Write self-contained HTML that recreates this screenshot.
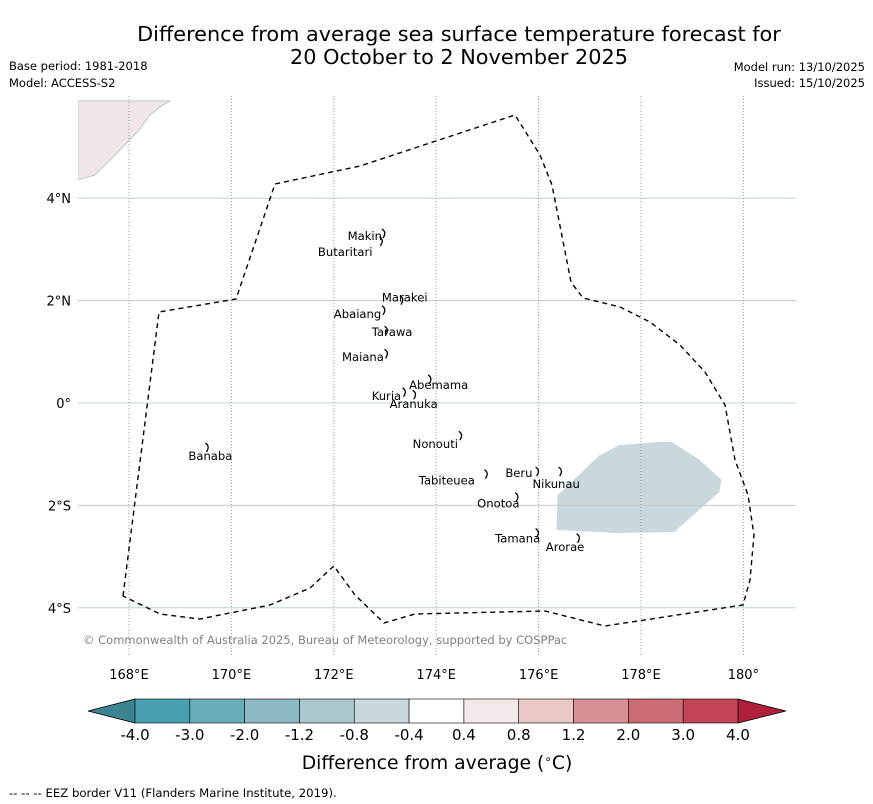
<!DOCTYPE html>
<html><head><meta charset="utf-8"><style>
body{margin:0;background:#fff;}
svg{display:block;font-family:"DejaVu Sans","Liberation Sans",sans-serif;}
</style></head><body>
<svg id="chart" width="873" height="804" viewBox="0 0 873 804" xmlns="http://www.w3.org/2000/svg">
<text x="459" y="41" font-size="20.8" text-anchor="middle">Difference from average sea surface temperature forecast for</text>
<text x="459" y="64" font-size="20.8" text-anchor="middle">20 October to 2 November 2025</text>
<text x="9" y="70" font-size="11.5">Base period: 1981-2018</text>
<text x="9" y="87" font-size="11.5">Model: ACCESS-S2</text>
<text x="865" y="71" font-size="11.5" text-anchor="end">Model run: 13/10/2025</text>
<text x="865" y="87" font-size="11.5" text-anchor="end">Issued: 15/10/2025</text>
<g id="map"></g>
<g id="cbar"></g>
<text x="437" y="769" font-size="18.8" text-anchor="middle">Difference from average (<tspan font-size="12" dy="-6">∘</tspan><tspan dy="6">C)</tspan></text>
<text x="9" y="797" font-size="11.7">--  --  -- EEZ border V11 (Flanders Marine Institute, 2019).</text>
</svg>
<script>
const NS="http://www.w3.org/2000/svg";
const lonTicks=[168,170,172,174,176,178,180];
const lonTickLabels=["168°E","170°E","172°E","174°E","176°E","178°E","180°"];
const latTicks=[4,2,0,-2,-4];
const latTickLabels=["4°N","2°N","0°","2°S","4°S"];
const eezLon=[167.883,168.586,170.09,170.852,172.512,175.539,176.027,176.262,176.633,176.867,177.59,178.176,178.762,179.25,179.64,179.836,180.09,180.207,180.129,179.992,177.297,176.125,173.586,172.98,172.414,172.0,171.535,170.754,169.387,168.605,167.883];
const eezLat=[-3.77,1.777,2.031,4.277,4.629,5.625,4.844,4.258,2.363,2.051,1.875,1.582,1.133,0.605,-0.039,-1.113,-1.797,-2.578,-3.457,-3.945,-4.355,-4.063,-4.121,-4.297,-3.75,-3.184,-3.613,-3.945,-4.219,-4.121,-3.77];
const blobLon=[176.37,177.19,177.58,178.36,178.6,179.14,179.57,179.53,178.65,177.54,176.35];
const blobLat=[-1.8,-1.02,-0.82,-0.76,-0.76,-1.11,-1.5,-1.74,-2.52,-2.54,-2.48];
const landLon=[167.0,168.8,168.6,168.4,168.2,167.72,167.33,167.0];
const landLat=[5.9,5.9,5.78,5.62,5.33,4.84,4.45,4.36];
const islandNames=["Makin","Butaritari","Marakei","Abaiang","Tarawa","Maiana","Abemama","Kuria","Aranuka","Nonouti","Banaba","Tabiteuea","Beru","Nikunau","Onotoa","Tamana","Arorae"];
const islandLon=[173.0,172.95,173.35,173.0,173.05,173.05,173.9,173.4,173.6,174.5,169.55,175.0,176.0,176.45,175.6,176.0,176.8];
const islandLat=[3.3,3.15,2.0,1.8,1.4,0.95,0.45,0.2,0.15,-0.65,-0.88,-1.4,-1.35,-1.35,-1.85,-2.55,-2.65];
const labelLon=[172.27,171.69,172.94,172.0,172.74,172.16,173.47,172.74,173.09,173.54,169.16,173.66,175.35,175.88,174.8,175.15,176.14];
const labelLat=[3.18,2.87,1.98,1.66,1.31,0.82,0.27,0.06,-0.1,-0.88,-1.11,-1.59,-1.45,-1.66,-2.04,-2.72,-2.89];
const cbarBounds=["-4.0","-3.0","-2.0","-1.2","-0.8","-0.4","0.4","0.8","1.2","2.0","3.0","4.0"];
const cbarColors=["#48a0b0","#67adba","#8bbac5","#a9c7cc","#c9d8dc","#ffffff","#f2e8e8","#e9c8c5","#d98f96","#cd6b75","#c24455"];
const cbarUnder="#3a8591", cbarOver="#b01f3c";

const X=lon=>129+(lon-168)*51.2;
const Y=lat=>403-lat*51.2;
function mk(tag,attrs,parent){const e=document.createElementNS(NS,tag);for(const k in attrs)e.setAttribute(k,attrs[k]);parent.appendChild(e);return e;}
const map=document.getElementById('map');
const clip=mk('clipPath',{id:'mc'},map);mk('rect',{x:78,y:96,width:718,height:560},clip);
const inner=mk('g',{'clip-path':'url(#mc)'},map);
function poly(lons,lats){return lons.map((l,i)=>X(l).toFixed(1)+','+Y(lats[i]).toFixed(1)).join(' ');}
let e=mk('polygon',{points:poly(landLon,landLat),fill:'#efe6e5',stroke:'#a8bfc3','stroke-width':0.8},inner);


e=mk('polygon',{points:poly(blobLon,blobLat),fill:'#c9d8dc'},inner);


latTicks.forEach((t,i)=>{
 const g=mk('line',{x1:78,x2:796,y1:Y(t),y2:Y(t),stroke:(t%4===0)?'#bcd6d8':'#c8c8c8','stroke-width':1},inner);
 
 
 const tx=mk('text',{x:71,y:Y(t)+5,'font-size':13,'text-anchor':'end'},map);tx.textContent=latTickLabels[i];
 
 
});
lonTicks.forEach((t,i)=>{
 const g=mk('line',{x1:X(t),x2:X(t),y1:96,y2:656,stroke:'#8aa4aa','stroke-width':1,'stroke-dasharray':'1,2'},inner);
 
 
 const tx=mk('text',{x:X(t),y:679,'font-size':13,'text-anchor':'middle'},map);tx.textContent=lonTickLabels[i];
 
 
});
e=mk('polyline',{points:poly(eezLon,eezLat),fill:'none',stroke:'#000','stroke-width':1.4,'stroke-dasharray':'5,4'},inner);


islandNames.forEach((n,i)=>{
 const x=X(islandLon[i]),y=Y(islandLat[i]);
 const m=mk('path',{d:`M${x-3},${y-5} q5,3 1,9`,fill:'none',stroke:'#000','stroke-width':1.3},inner);
 
 
 const t=mk('text',{x:X(labelLon[i]),y:Y(labelLat[i]),'font-size':11.6},inner);t.textContent=n;
 
 
});
e=mk('text',{x:83,y:644,'font-size':11.5,fill:'#808080'},map);e.textContent='© Commonwealth of Australia 2025, Bureau of Meteorology, supported by COSPPac';



const cb=document.getElementById('cbar');
const cx0=135,cx1=738,cy=699,ch=24,n=cbarColors.length,w=(cx1-cx0)/n;
e=mk('polygon',{points:`${cx0},${cy} ${cx0},${cy+ch} 88,${cy+ch/2}`,fill:cbarUnder,stroke:'#000','stroke-width':0.8},cb);


e=mk('polygon',{points:`${cx1},${cy} ${cx1},${cy+ch} 786,${cy+ch/2}`,fill:cbarOver,stroke:'#000','stroke-width':0.8},cb);


cbarColors.forEach((c,i)=>{
 const r=mk('rect',{x:cx0+i*w,y:cy,width:w,height:ch,fill:c,stroke:'#000','stroke-width':0.6},cb);
 
 
});
cbarBounds.forEach((b,i)=>{
 const t=mk('text',{x:cx0+i*w,y:740,'font-size':15,'text-anchor':'middle'},cb);t.textContent=b;
 
 
});
</script>
</body></html>
